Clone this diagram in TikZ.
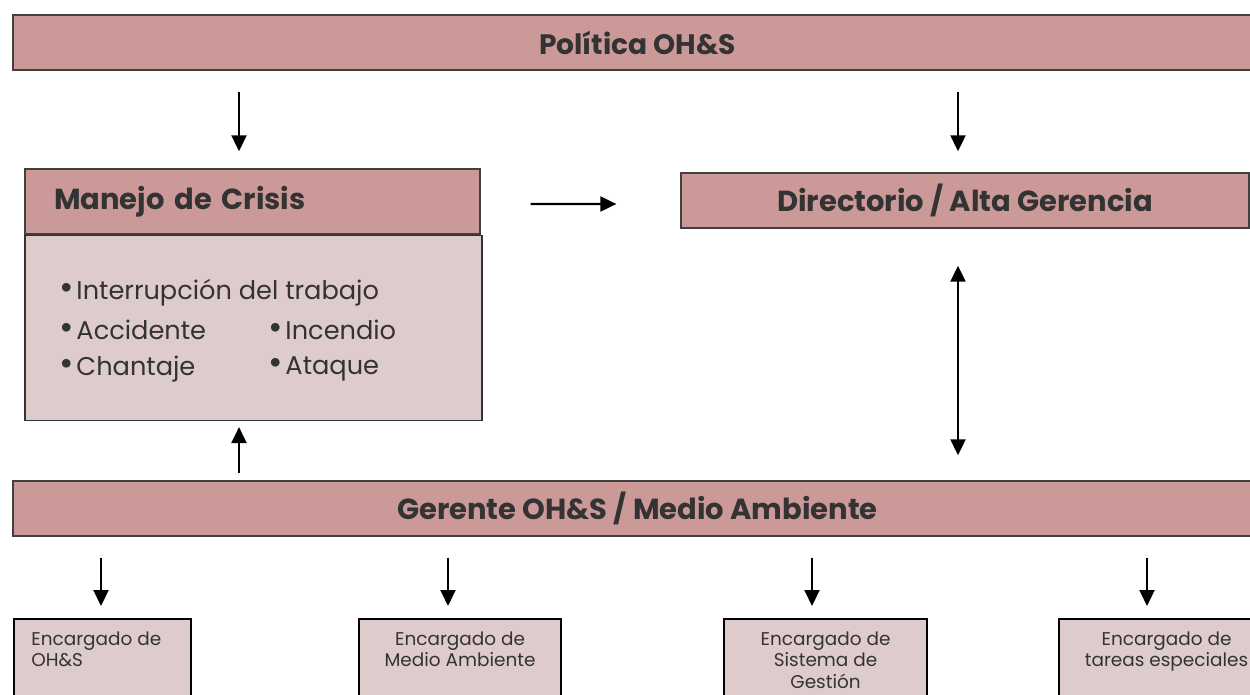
\documentclass[tikz,border=0pt]{standalone}
\usepackage{fontspec}
\setmainfont{Poppins}
\usetikzlibrary{arrows.meta,positioning}
\definecolor{rosa}{RGB}{204,153,153}
\definecolor{rosaclaro}{RGB}{222,204,204}
\definecolor{texto}{RGB}{51,51,51}
\newcommand{\vineta}{{\fontsize{20}{20}\selectfont\textbullet}\hspace{1.5pt}}

\begin{document}
\begin{tikzpicture}[x=0.02cm,y=-0.02cm,>={Triangle[length=0.32cm,width=0.3cm]},
		titulo/.style={draw=black!75,fill=rosa,line width=0.8pt,text=texto,inner sep=0pt,
			font=\bfseries\fontsize{16.5}{19}\selectfont},
		cuadro/.style={draw=black!80,fill=rosaclaro,line width=0.8pt},
		encargado/.style={draw=black,fill=rosaclaro,line width=1.2pt,anchor=north west,minimum height=2cm},
		item/.style={anchor=west,text=texto,inner sep=0pt,font=\fontsize{14.6}{17}\selectfont},
		etiqueta/.style={text=texto,inner sep=0pt,font=\fontsize{10.5}{12.3}\selectfont},
		flecha/.style={->,line width=1.2pt}]
			\useasboundingbox (0,0) rectangle (1250,695);
			\clip (0,0) rectangle (1250,695);
			% niveles superiores
			\node[titulo,minimum width=24.98cm,minimum height=1.1cm,font=\bfseries\fontsize{16}{19}\selectfont] (politica) at (637.5,42.5) {Política OH\&S};
			\node[titulo,minimum width=9.1cm,minimum height=1.3cm,text width=7.94cm,align=left] (crisis) at (252.5,201.5) {Manejo de Crisis};
			\node[cuadro,anchor=north west,minimum width=9.14cm,minimum height=3.7cm] (riesgos) at (crisis.south west) {};
			\node[item] (interrupcion) at (59,293) {\vineta Interrupción del trabajo};
			\node[item] (accidente) at (59,330) {\vineta Accidente};
			\node[item] (chantaje) at (59,369) {\vineta Chantaje};
			\node[item] (incendio) at (268,330) {\vineta Incendio};
			\node[item] (ataque) at (268,369) {\vineta Ataque};
			\node[titulo,minimum width=11.36cm,minimum height=1.1cm] (directorio) at (965,200.5) {Directorio / Alta Gerencia};
			\node[titulo,minimum width=24.98cm,minimum height=1.1cm] (gerente) at (637.5,508.5) {Gerente OH\&S / Medio Ambiente};
			% encargados
			\node[encargado,minimum width=3.54cm] (enc1) at (13,618) {};
			\node[encargado,minimum width=4.04cm] (enc2) at (358,618) {};
			\node[encargado,minimum width=4.06cm] (enc3) at (723,618) {};
			\node[encargado,minimum width=4.3cm] (enc4) at (1058,618) {};
			\node[etiqueta,anchor=north west,align=left] (txt1) at ([xshift=0.36cm,yshift=-0.26cm]enc1.north west) {Encargado de\\OH\&S};
			\node[etiqueta,anchor=north,align=center] (txt2) at ([yshift=-0.26cm]enc2.north) {Encargado de\\Medio Ambiente};
			\node[etiqueta,anchor=north,align=center] (txt3) at ([yshift=-0.26cm]enc3.north) {Encargado de\\Sistema de\\Gestión};
			\node[etiqueta,anchor=north,align=center] (txt4) at ([yshift=-0.26cm]enc4.north) {Encargado de\\tareas especiales};
			% flechas
			\coordinate (colA) at (239,0);
			\coordinate (colB) at (958,0);
			\draw[flecha,shorten <=0.42cm,shorten >=0.34cm] (politica.south -| colA) -- (crisis.north -| colA);
			\draw[flecha,shorten <=0.42cm,shorten >=0.42cm] (politica.south -| colB) -- (directorio.north -| colB);
			\draw[flecha,shorten <=1cm,shorten >=1.28cm] ([yshift=-0.05cm]crisis.east) -- ([yshift=-0.07cm]directorio.west);
			\draw[flecha,<->,shorten <=0.74cm,shorten >=0.5cm] (directorio.south -| colB) -- (gerente.north -| colB);
			\draw[flecha,shorten <=0.14cm,shorten >=0.12cm] (gerente.north -| colA) -- (riesgos.south -| colA);
			\foreach \n/\x in {1/101,2/448,3/812,4/1147}{
				\coordinate (col\n) at (\x,0);
				\draw[flecha,shorten <=0.42cm,shorten >=0.24cm] (gerente.south -| col\n) -- (enc\n.north -| col\n);
			}
		\end{tikzpicture}
\end{document}
